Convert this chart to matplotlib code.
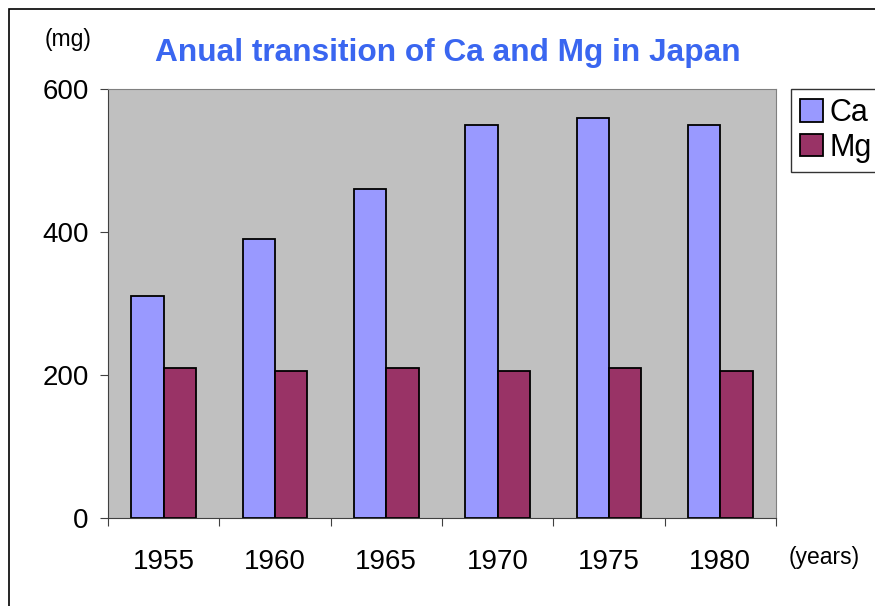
import matplotlib.pyplot as plt
import numpy as np
from matplotlib.patches import Rectangle

plt.rcParams['font.family'] = ['Liberation Sans', 'DejaVu Sans']

# Data
years = ['1955', '1960', '1965', '1970', '1975', '1980']
ca = [310, 390, 460, 550, 560, 550]
mg = [210, 205, 210, 205, 210, 205]

fig = plt.figure(figsize=(8.75, 6.06), dpi=100)
ax = fig.add_axes([0.1234, 0.1452, 0.7634, 0.7079])
ax.set_facecolor('#C0C0C0')

x = np.arange(len(years))
w = 0.29
ax.bar(x - w / 2, ca, w, color='#9999FF', edgecolor='black', linewidth=1.3, label='Ca')
ax.bar(x + w / 2, mg, w, color='#993366', edgecolor='black', linewidth=1.3, label='Mg')

ax.set_xlim(-0.5, len(years) - 0.5)
ax.set_ylim(0, 600)
ax.set_yticks([0, 200, 400, 600])
ax.set_xticks(np.arange(-0.5, len(years)), minor=False)
ax.set_xticklabels([])
ax.set_xticks(x, minor=True)
ax.set_xticklabels(years, minor=True)
ax.tick_params(axis='x', which='major', length=6, direction='out', color='#404040')
ax.tick_params(axis='x', which='minor', length=0, pad=22, labelsize=20)
ax.tick_params(axis='y', length=6, direction='out', color='#404040', labelsize=20, pad=8)

for s in ['top', 'right']:
    ax.spines[s].set_color('#808080')
for s in ['left', 'bottom']:
    ax.spines[s].set_color('#404040')

fig.text(0.512, 0.913, 'Anual transition of Ca and Mg in Japan', color='#3A66F0',
         fontsize=22.8, fontweight='bold', ha='center', va='center')
fig.text(0.078, 0.935, '(mg)', fontsize=16.5, ha='center', va='center')
fig.text(0.942, 0.08, '(years)', fontsize=16.5, ha='center', va='center')

leg = ax.legend(loc='upper left', bbox_to_anchor=(1.0225, 1.0), fontsize=22,
                frameon=True, fancybox=False, edgecolor='black', handlelength=0.75,
                handleheight=0.75, handletextpad=0.2, borderpad=0.3, labelspacing=0.15,
                borderaxespad=0)
leg.get_frame().set_linewidth(1.0)

# outer chart border
fig.patches.append(Rectangle((9 / 875, -0.1), 1.2, 1.1 - 9 / 606, transform=fig.transFigure,
                             fill=False, edgecolor='black', linewidth=1.2))

fig.savefig('out.png', dpi=100)
